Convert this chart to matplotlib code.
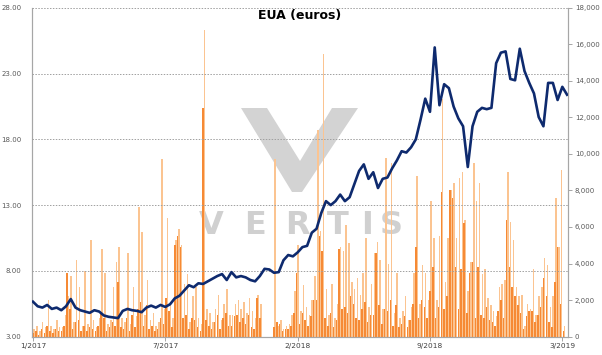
import matplotlib
matplotlib.use("Agg")
import matplotlib.pyplot as plt
from matplotlib.patches import Polygon
from matplotlib.ticker import FuncFormatter
import numpy as np

# EUA price (euros), one reading per week
price = [5.65, 5.3, 5.2, 5.4, 5.1, 5.2, 5.0, 5.3, 5.85, 5.2,
         5.0, 4.9, 4.8, 5.0, 4.9, 4.6, 4.5, 4.45, 4.4, 4.95,
         5.1, 5.0, 4.95, 4.85, 5.2, 5.35, 5.2, 5.4, 5.25, 5.45,
         5.9, 6.1, 6.5, 6.9, 6.75, 7.05, 7.0, 7.2, 7.4, 7.6,
         7.75, 7.3, 7.9, 7.5, 7.6, 7.5, 7.3, 7.2, 7.6, 8.15,
         8.1, 7.85, 7.9, 8.8, 9.2, 9.1, 9.4, 9.8, 9.9, 10.9,
         11.2, 12.4, 13.3, 13.0, 13.3, 13.8, 13.3, 13.6, 14.6, 15.6,
         16.1, 15.0, 15.5, 14.3, 15.0, 15.1, 15.8, 16.4, 17.1, 17.0,
         17.4, 18.0, 19.5, 21.1, 20.1, 25.0, 20.6, 22.2, 21.9, 20.5,
         19.6, 19.0, 15.9, 19.0, 20.1, 20.4, 20.3, 20.4, 23.8, 24.6,
         24.7, 22.6, 22.5, 24.9, 23.2, 22.3, 21.5, 19.7, 19.0, 22.3,
         22.3, 21.0, 22.0, 21.4]

# volumes (thousands), one bar every three trading days
vol_light = [0.4, 0.6, 0.3, 0.8, 0.5, 2.0, 0.6, 0.4, 0.9, 0.5,
             0.5, 1.2, 2.2, 3.3, 0.8, 4.2, 2.7, 0.6, 3.6, 0.7,
             5.3, 0.9, 0.5, 1.0, 4.8, 3.5, 0.7, 0.9, 2.7, 4.1,
             4.9, 1.0, 0.8, 4.6, 0.7, 2.7, 1.1, 7.1, 5.7, 1.2,
             3.1, 0.9, 1.3, 0.6, 0.8, 9.7, 1.5, 6.5, 1.8, 1.0,
             5.3, 5.9, 5.0, 2.9, 3.4, 0.8, 2.2, 2.7, 1.0, 0.7,
             16.8, 1.5, 1.3, 0.8, 1.5, 2.3, 0.9, 1.8, 2.6, 1.2,
             1.2, 1.8, 2.0, 1.5, 1.9, 1.3, 2.1, 1.4, 1.0, 2.3,
             1.8, 0, 0, 0, 0, 9.7, 0.6, 0.9, 0.4, 0.6,
             0.7, 1.2, 2.5, 5.0, 1.4, 2.8, 1.6, 1.2, 2.0, 3.3,
             11.3, 5.8, 15.5, 2.6, 1.2, 2.9, 1.0, 1.8, 4.9, 4.7,
             6.1, 5.1, 3.0, 2.6, 3.2, 2.3, 3.5, 5.4, 1.6, 2.9,
             4.6, 5.2, 4.2, 1.5, 9.8, 4.0, 9.5, 1.3, 3.5, 1.0,
             1.4, 2.2, 0.9, 1.6, 3.5, 8.8, 1.8, 3.9, 3.5, 2.0,
             7.4, 5.4, 2.0, 5.5, 13.0, 3.0, 5.4, 8.0, 8.4, 5.4,
             8.7, 9.0, 6.4, 2.5, 4.1, 9.5, 7.4, 8.4, 3.4, 3.7,
             2.1, 1.7, 1.4, 1.1, 2.7, 2.9, 3.1, 9.0, 6.3, 5.3,
             2.7, 2.2, 2.3, 0.6, 1.8, 1.5, 3.7, 1.2, 2.2, 2.7,
             4.3, 3.9, 1.6, 2.2, 7.6, 4.9, 9.1, 0.6]
vol_dark = [0.2, 0.3, 0.1, 0.4, 0.2, 0.6, 0.3, 0.2, 0.4, 0.3,
            0.3, 0.6, 3.5, 1.5, 0.4, 0.8, 0.9, 0.3, 0.6, 0.3,
            0.5, 0.4, 0.3, 0.6, 1.3, 1.0, 0.3, 0.5, 0.8, 0.6,
            3.0, 0.5, 0.4, 1.0, 0.3, 1.2, 0.5, 1.5, 1.9, 0.6,
            1.7, 0.4, 0.6, 0.3, 0.4, 1.0, 0.7, 2.1, 1.4, 0.5,
            5.0, 5.5, 4.9, 1.0, 1.2, 0.4, 1.0, 0.9, 0.5, 0.3,
            12.5, 0.9, 0.6, 0.4, 0.8, 1.2, 0.4, 1.0, 1.3, 0.6,
            0.6, 1.1, 1.2, 0.8, 1.0, 0.7, 1.2, 0.5, 0.4, 2.1,
            1.0, 0, 0, 0, 0, 0.5, 0.8, 0.7, 0.3, 0.4,
            0.4, 0.6, 1.3, 3.5, 0.7, 1.3, 0.9, 0.6, 1.1, 2.0,
            2.0, 5.5, 4.7, 1.0, 0.6, 1.3, 0.5, 0.9, 4.8, 1.5,
            1.6, 1.3, 2.2, 1.8, 1.0, 0.9, 1.5, 1.9, 0.8, 1.2,
            1.2, 4.6, 1.7, 0.7, 1.5, 1.4, 2.0, 0.6, 1.7, 0.5,
            0.7, 1.1, 0.5, 0.9, 1.8, 4.9, 1.0, 2.0, 1.6, 1.0,
            2.5, 3.8, 1.0, 1.6, 7.9, 1.5, 2.2, 8.0, 7.6, 3.8,
            1.5, 3.7, 6.2, 1.3, 3.5, 4.1, 1.0, 3.8, 1.2, 1.0,
            1.6, 0.9, 0.8, 0.6, 1.4, 2.0, 1.0, 6.4, 3.8, 2.7,
            2.2, 1.7, 1.3, 0.4, 1.1, 1.4, 1.4, 0.8, 1.2, 1.6,
            3.2, 2.2, 0.8, 0.5, 3.0, 4.9, 1.8, 0.3]

tick_labels = ["1/2017", "7/2017", "2/2018", "9/2018", "3/2019"]
tick_days = [0, 140, 280, 420, 560]

W, H = 602, 355
fig = plt.figure(figsize=(W / 100, H / 100), dpi=100)
ax = fig.add_axes([32 / W, 1 - 336.5 / H, 536 / W, 328.5 / H])
ax2 = ax.twinx()

grey_txt = "#595959"
spine_c = "#A6A6A6"

# watermark (logo), figure pixel coords
def px(x, y):
    return (x / W, 1 - y / H)

vshape = [px(241, 108), px(267, 108), px(300, 161), px(332, 108),
          px(358, 108), px(302, 192), px(292, 192)]
ax.add_patch(Polygon(vshape, closed=True, transform=fig.transFigure,
                     facecolor="#D3D3D3", edgecolor="none", zorder=0.5))
for letter, cx in zip("VERTIS", [211, 255, 297, 338, 367, 391]):
    ax.text(cx / W, 1 - 226 / H, letter, transform=fig.transFigure,
            ha="center", va="center", fontsize=23, fontweight="bold",
            color="#D0D0D0", zorder=0.5)

# volume bars (right axis)
days_bar = np.arange(len(vol_light)) * 3
ax.bar(days_bar + 1.3, np.array(vol_light) * 1000, width=1.6,
       color="#FBC491", linewidth=0, zorder=2)
ax.bar(days_bar, np.array(vol_dark) * 1000, width=1.6,
       color="#F68A35", linewidth=0, zorder=3)

# price line (left axis)
days_line = np.arange(len(price)) * 5
ax2.plot(days_line, price, color="#0E2A6E", linewidth=1.9, zorder=4)

ax.set_xlim(-1, 566)
ax.set_ylim(0, 18000)
ax2.set_ylim(3, 28)

ax.yaxis.tick_right()
ax2.yaxis.tick_left()
ax.set_yticks(np.arange(0, 18001, 2000))
ax.yaxis.set_major_formatter(FuncFormatter(lambda v, p: f"{v:,.0f}"))
ax2.set_yticks(np.arange(3, 29, 5))
ax2.yaxis.set_major_formatter(FuncFormatter(lambda v, p: f"{v:.2f}"))

ax.set_xticks(tick_days)
ax.set_xticklabels(tick_labels)

ax2.grid(axis="y", linestyle=(0, (1.5, 1.5)), color="#A0A0A0", linewidth=0.7)
ax2.set_axisbelow(False)

for a in (ax, ax2):
    for s in a.spines.values():
        s.set_color(spine_c)
        s.set_linewidth(0.8)
    a.spines["top"].set_visible(False)

ax.tick_params(axis="y", right=True, left=False, length=3, width=0.7,
               color=spine_c, labelsize=5.0, labelcolor=grey_txt, pad=2)
ax2.tick_params(axis="y", left=False, right=False, labelsize=5.0,
                labelcolor=grey_txt, pad=4)
ax.tick_params(axis="x", length=3, width=0.7, color=spine_c, labelsize=5.3,
               labelcolor="#404040", pad=2)

fig.text(300 / W, 1 - 15 / H, "EUA (euros)", ha="center", va="center",
         fontsize=9, fontweight="bold", color="black")

fig.savefig("out.png", dpi=100)
